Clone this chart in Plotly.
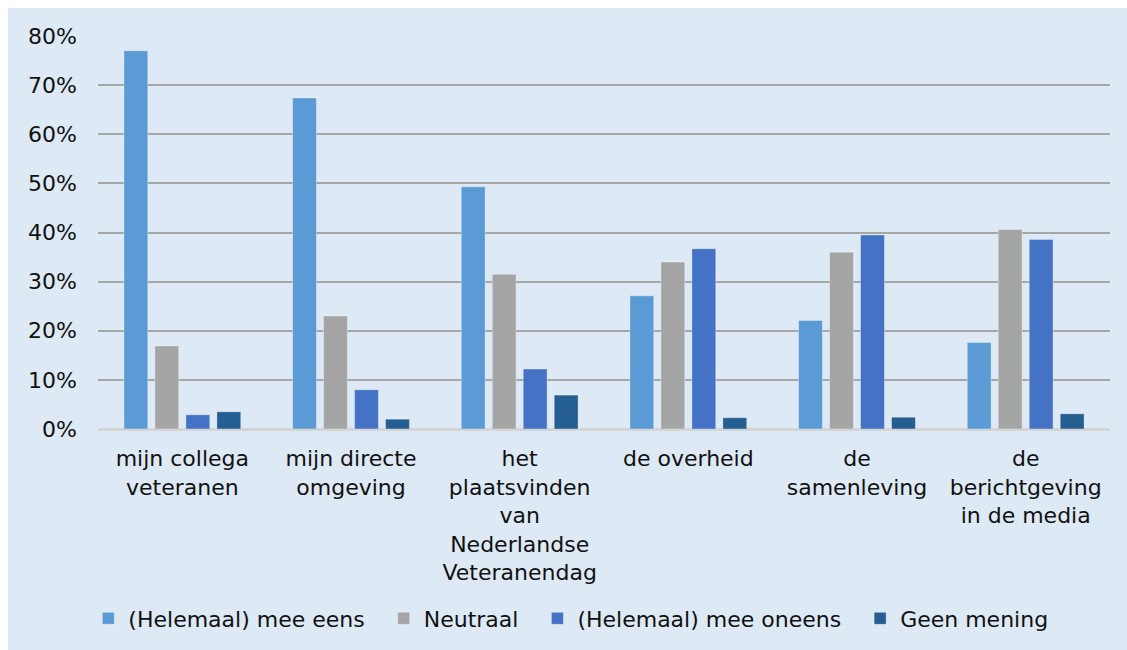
import plotly.graph_objects as go

categories = [
    "mijn collega<br>veteranen",
    "mijn directe<br>omgeving",
    "het<br>plaatsvinden<br>van<br>Nederlandse<br>Veteranendag",
    "de overheid",
    "de<br>samenleving",
    "de<br>berichtgeving<br>in de media",
]
series_names = ["(Helemaal) mee eens", "Neutraal", "(Helemaal) mee oneens", "Geen mening"]
mee_eens = [0.770, 0.674, 0.493, 0.271, 0.221, 0.176]
neutraal = [0.169, 0.230, 0.315, 0.340, 0.360, 0.406]
mee_oneens = [0.029, 0.080, 0.122, 0.367, 0.395, 0.386]
geen_mening = [0.035, 0.020, 0.069, 0.023, 0.024, 0.031]
colors = ["#5b9bd5", "#a5a5a5", "#4472c4", "#255e91"]
tick_vals = [0, 0.1, 0.2, 0.3, 0.4, 0.5, 0.6, 0.7, 0.8]
tick_text = ["0%", "10%", "20%", "30%", "40%", "50%", "60%", "70%", "80%"]

bg = "#dde9f5"
font = "DejaVu Sans, Verdana, sans-serif"
pad = "\u00a0\u00a0"

fig = go.Figure()
for i, (name, vals, col) in enumerate(zip(series_names, [mee_eens, neutraal, mee_oneens, geen_mening], colors)):
    fig.add_trace(go.Bar(
        x=categories, y=vals, name=name + (pad if i < len(series_names) - 1 else ""),
        marker=dict(color=col, line=dict(color="rgba(255,255,255,0.35)", width=1)),
    ))

fig.update_layout(
    width=1119, height=642,
    barmode="group", bargap=0.265, bargroupgap=0.23,
    paper_bgcolor=bg, plot_bgcolor=bg,
    font=dict(family=font, size=22, color="#111111"),
    margin=dict(l=90, r=17, t=28, b=221),
    showlegend=True,
    legend=dict(orientation="h", xref="container", yref="container",
                x=0.503, xanchor="center", y=0.049, yanchor="middle",
                font=dict(size=22), bgcolor="rgba(0,0,0,0)", itemwidth=30),
    xaxis=dict(showgrid=False, showline=False, ticks="", tickangle=0,
               tickfont=dict(size=22), ticklabelstandoff=14),
    yaxis=dict(range=[0, 0.8], tickvals=tick_vals, ticktext=tick_text,
               showgrid=True, gridcolor="#a6a6a6", gridwidth=2,
               zeroline=True, zerolinecolor="#d4d4d4", zerolinewidth=3,
               showline=False, ticks="", tickfont=dict(size=22),
               ticklabelstandoff=20),
)

fig.write_html("out.html", post_script="document.documentElement.style.background='white';document.body.style.margin='8px 0 0 8px';document.documentElement.style.overflow='hidden';")
